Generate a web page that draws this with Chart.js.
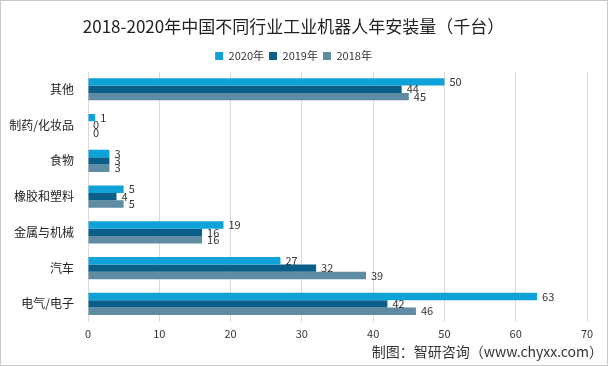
<!DOCTYPE html>
<html>
<head>
<meta charset="utf-8">
<script src="https://cdn.jsdelivr.net/npm/chart.js@4"></script>
<style>
  html, body { margin: 0; padding: 0; background: #fff; }
  #wrap { width: 608px; height: 366px; }
</style>
</head>
<body>
<div id="wrap"><canvas id="myChart" width="608" height="366"></canvas></div>
<script>
// categories and series
const categories = ["其他", "制药/化妆品", "食物", "橡胶和塑料", "金属与机械", "汽车", "电气/电子"];
const years = ["2020年", "2019年", "2018年"];
const v2020 = [50, 1, 3, 5, 19, 27, 63];
const v2019 = [44, 0, 3, 4, 16, 32, 42];
const v2018 = [45, 0, 3, 5, 16, 39, 46];
const xTicks = [0, 10, 20, 30, 40, 50, 60, 70];

const colors = ["#0ea2d8", "#0b5e87", "#5f8ba3"];
const cjk = "'Noto Sans CJK SC', 'Noto Sans', sans-serif";

// value labels at the end of each bar + frame + source note
const extras = {
   id: "extras",
   afterDatasetsDraw(chart) {
      const ctx = chart.ctx;
      ctx.save();
      ctx.font = "11px " + cjk;
      ctx.fillStyle = "#333";
      ctx.textBaseline = "middle";
      ctx.textAlign = "left";
      chart.data.datasets.forEach((ds, i) => {
         chart.getDatasetMeta(i).data.forEach((bar, j) => {
            ctx.fillText(String(ds.data[j]), bar.x + 5, bar.y);
         });
      });
      ctx.restore();
   },
   afterDraw(chart) {
      const ctx = chart.ctx;
      ctx.save();
      ctx.font = "14px " + cjk;
      ctx.fillStyle = "#333";
      ctx.textAlign = "right";
      ctx.textBaseline = "middle";
      ctx.fillText("制图：智研咨询（www.chyxx.com）", 603, 352);
      ctx.strokeStyle = "#c8c8c8";
      ctx.lineWidth = 1;
      ctx.strokeRect(0.5, 0.5, 607, 365);
      ctx.restore();
   }
};

new Chart(document.getElementById("myChart"), {
   type: "bar",
   data: {
      labels: categories,
      datasets: [
         { label: years[0], data: v2020, backgroundColor: colors[0] },
         { label: years[1], data: v2019, backgroundColor: colors[1] },
         { label: years[2], data: v2018, backgroundColor: colors[2] },
      ],
   },
   options: {
      indexAxis: "y",
      responsive: false,
      animation: false,
      layout: { padding: { left: 0, right: 21, top: 3, bottom: 21 } },
      datasets: { bar: { categoryPercentage: 0.62, barPercentage: 1.0 } },
      plugins: {
         title: {
            display: true,
            text: "2018-2020年中国不同行业工业机器人年安装量（千台）",
            font: { family: cjk, size: 17, weight: "normal" },
            color: "#222",
            padding: { top: 13, bottom: 9 },
         },
         legend: {
            display: true,
            labels: {
               boxWidth: 8,
               boxHeight: 8,
               font: { family: cjk, size: 11 },
               color: "#333",
               padding: 5,
            },
         },
         tooltip: { enabled: false },
      },
      scales: {
         x: {
            min: 0,
            max: 70,
            afterBuildTicks: (scale) => {
               scale.ticks = xTicks.map((v) => ({ value: v }));
            },
            grid: { color: "#d9d9d9", drawTicks: false },
            border: { display: false },
            ticks: { font: { family: cjk, size: 11 }, color: "#333", padding: 5 },
         },
         y: {
            afterFit: (scale) => {
               scale.width = 88;
            },
            grid: { display: false },
            border: { display: false },
            ticks: { font: { family: cjk, size: 12 }, color: "#222", padding: 6 },
         },
      },
   },
   plugins: [extras],
});
</script>
</body>
</html>
